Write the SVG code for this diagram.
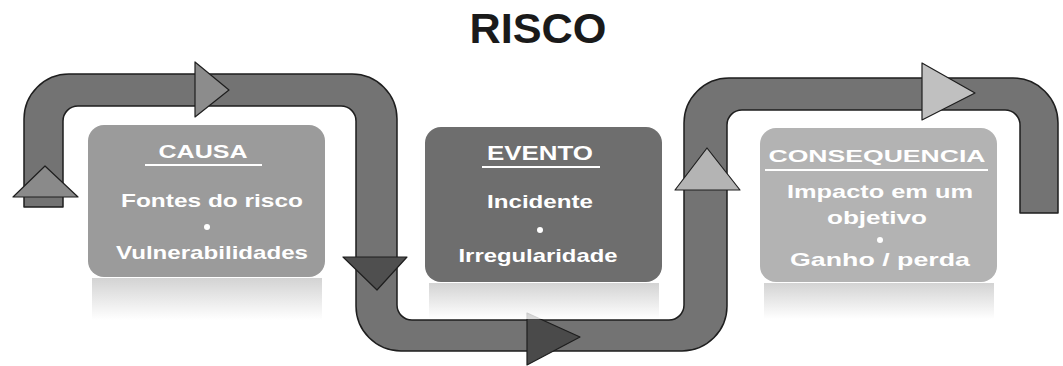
<svg xmlns="http://www.w3.org/2000/svg" width="1063" height="366" viewBox="0 0 1063 366">
  <defs>
    <linearGradient id="refl" x1="0" y1="0" x2="0" y2="1">
      <stop offset="0" stop-color="#c8c8c8"/>
      <stop offset="1" stop-color="#ffffff"/>
    </linearGradient>
    <style>
      .ribbon { fill: #737373; stroke: #1e1e1e; stroke-width: 1.5; stroke-linejoin: round; }
      .head { stroke: #1e1e1e; stroke-width: 1.2; stroke-linejoin: round; }
      .box { stroke: none; }
      .refl { fill: url(#refl); opacity: 0.8; }
      .t { font-family: "Liberation Sans", Arial, sans-serif; font-weight: bold; fill: #ffffff; text-anchor: middle; }
      .title { font-family: "Liberation Sans", Arial, sans-serif; font-weight: bold; fill: #1a1a1a; text-anchor: middle; font-size: 42px; }
      .ul { stroke: #ffffff; stroke-width: 2; }
    </style>
  </defs>
  <rect width="1063" height="366" fill="#ffffff"/>

  <text class="title" x="538" y="43" textLength="137" lengthAdjust="spacingAndGlyphs">RISCO</text>

  <g id="connectors">
    <path class="ribbon" d="M 24 207 L 24 119 A 45 45 0 0 1 69 74 L 352 74 A 45 45 0 0 1 397 119 L 397 305 A 15 15 0 0 0 412 320 L 669 320 A 15 15 0 0 0 684 305 L 684 123 A 45 45 0 0 1 729 78 L 1013 78 A 45 45 0 0 1 1058 123 L 1058 213 L 1020 213 L 1020 125 A 15 15 0 0 0 1005 110 L 742 110 A 15 15 0 0 0 727 125 L 727 306 A 45 45 0 0 1 682 351 L 401 351 A 45 45 0 0 1 356 306 L 356 121 A 15 15 0 0 0 341 106 L 78 106 A 15 15 0 0 0 63 121 L 63 207 Z"/>
    <polygon class="head" fill="#8a8a8a" points="13,197 78,197 45,166"/>
    <polygon class="head" fill="#8c8c8c" points="195,62 195,117 229,90"/>
    <polygon class="head" fill="#4f4f4f" points="343,257 407,257 377,290"/>
    <polygon class="head" fill="#4a4a4a" points="527,313 527,365 580,337"/>
    <polygon class="head" fill="#b4b4b4" points="675,190 740,190 707,148"/>
    <polygon class="head" fill="#c0c0c0" points="922,63 922,120 975,93"/>
  </g>

  <g id="causa">
    <rect class="refl" x="92" y="278" width="230" height="42"/>
    <rect class="box" x="88" y="125" width="237" height="152" rx="16" fill="#9b9b9b"/>
    <text class="t" x="203" y="158" font-size="18" textLength="89" lengthAdjust="spacingAndGlyphs">CAUSA</text>
    <line class="ul" x1="145" y1="165" x2="262" y2="165"/>
    <text class="t" x="212" y="207" font-size="19" textLength="182" lengthAdjust="spacingAndGlyphs">Fontes do risco</text>
    <circle cx="207" cy="227" r="3" fill="#ffffff"/>
    <text class="t" x="212" y="259" font-size="19" textLength="192" lengthAdjust="spacingAndGlyphs">Vulnerabilidades</text>
  </g>

  <g id="evento">
    <rect class="refl" x="429" y="283" width="230" height="36"/>
    <rect class="box" x="425" y="127" width="237" height="155" rx="16" fill="#6e6e6e"/>
    <text class="t" x="540" y="160" font-size="20" textLength="106" lengthAdjust="spacingAndGlyphs">EVENTO</text>
    <line class="ul" x1="482" y1="167" x2="600" y2="167"/>
    <text class="t" x="540" y="208" font-size="19" textLength="106" lengthAdjust="spacingAndGlyphs">Incidente</text>
    <circle cx="540" cy="230" r="3" fill="#ffffff"/>
    <text class="t" x="538" y="262" font-size="19" textLength="159" lengthAdjust="spacingAndGlyphs">Irregularidade</text>
  </g>

  <g id="consequencia">
    <rect class="refl" x="764" y="283" width="230" height="36"/>
    <rect class="box" x="760" y="128" width="237" height="154" rx="16" fill="#b3b3b3"/>
    <text class="t" x="877" y="162" font-size="17" textLength="217" lengthAdjust="spacingAndGlyphs">CONSEQUENCIA</text>
    <line class="ul" x1="765" y1="170" x2="988" y2="170"/>
    <text class="t" x="880" y="198" font-size="19" textLength="186" lengthAdjust="spacingAndGlyphs">Impacto em um</text>
    <text class="t" x="877" y="224" font-size="19" textLength="100" lengthAdjust="spacingAndGlyphs">objetivo</text>
    <circle cx="880" cy="240" r="3" fill="#ffffff"/>
    <text class="t" x="880" y="266" font-size="19" textLength="180" lengthAdjust="spacingAndGlyphs">Ganho / perda</text>
  </g>
</svg>
